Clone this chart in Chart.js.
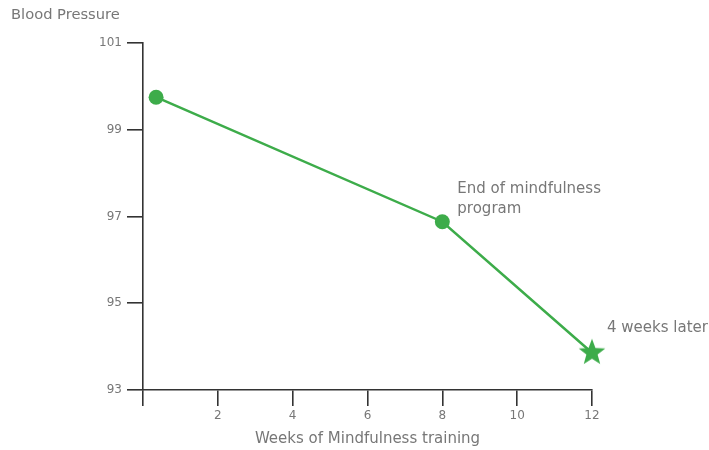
<!DOCTYPE html>
<html>
<head>
<meta charset="utf-8">
<script src="https://cdn.jsdelivr.net/npm/chart.js@4"></script>
<style>
  html, body { margin: 0; padding: 0; background: #fff; }
  #wrap { width: 709px; height: 450px; position: relative; }
</style>
</head>
<body>
<div id="wrap"><canvas id="c" width="709" height="450"></canvas></div>
<script>
// ---- data ----
const weeks = [0.35, 8, 12];
const bloodPressure = [99.75, 96.88, 93.86];
const pointLabels = ["", ["End of mindfulness", "program"], ["4 weeks later"]];
const xTicks = [2, 4, 6, 8, 10, 12];
const yTicks = [93, 95, 97, 99, 101];
const yAxisTitle = "Blood Pressure";
const xAxisTitle = "Weeks of Mindfulness training";

const GREEN = "#3dac4a";
const TEXT = "#777777";
const AXIS = "#333333";
const FONT = "'DejaVu Sans', sans-serif";

// filled star image for the last point
function makeStar(r) {
  const c = document.createElement("canvas");
  c.width = c.height = r * 2 + 2;
  const g = c.getContext("2d");
  g.fillStyle = GREEN;
  g.beginPath();
  const cx = r + 1, cy = r + 1, inner = r * 0.42;
  for (let i = 0; i < 10; i++) {
    const rad = i % 2 === 0 ? r : inner;
    const a = -Math.PI / 2 + i * Math.PI / 5;
    const px = cx + rad * Math.cos(a), py = cy + rad * Math.sin(a);
    if (i === 0) g.moveTo(px, py); else g.lineTo(px, py);
  }
  g.closePath();
  g.fill();
  return c;
}
const star = makeStar(14);

const labelPlugin = {
  id: "pointText",
  afterDatasetsDraw(chart) {
    const ctx = chart.ctx;
    const meta = chart.getDatasetMeta(0);
    ctx.save();
    ctx.fillStyle = TEXT;
    ctx.font = "15px " + FONT;
    ctx.textAlign = "left";
    ctx.textBaseline = "middle";
    meta.data.forEach((pt, i) => {
      const lines = pointLabels[i];
      if (!lines || !lines.length) return;
      const n = lines.length;
      lines.forEach((t, k) => {
        const dy = n === 2 ? (-33 + k * 20) : -25;
        ctx.fillText(t, pt.x + 15, pt.y + dy);
      });
    });
    // y axis title at top-left
    ctx.font = "14.7px " + FONT;
    ctx.fillText(yAxisTitle, 11, 15);
    ctx.restore();
  }
};

new Chart(document.getElementById("c"), {
  type: "line",
  data: {
    datasets: [{
      data: weeks.map((w, i) => ({ x: w, y: bloodPressure[i] })),
      borderColor: GREEN,
      backgroundColor: GREEN,
      borderWidth: 2.5,
      pointStyle: ["circle", "circle", star],
      pointRadius: [7.5, 7.5, 14],
      pointBackgroundColor: GREEN,
      pointBorderWidth: 0,
      tension: 0,
      fill: false,
      clip: false
    }]
  },
  options: {
    responsive: false,
    animation: false,
    events: [],
    layout: { padding: { top: 43, right: 117, left: 0, bottom: 0 } },
    plugins: { legend: { display: false }, tooltip: { enabled: false } },
    scales: {
      x: {
        type: "linear",
        min: 0, max: 12,
        afterBuildTicks(s) { s.ticks = [0].concat(xTicks).map(v => ({ value: v })); },
        afterFit(s) { s.height = 60; },
        ticks: {
          color: TEXT, font: { size: 12, family: FONT }, padding: 3,
          maxRotation: 0,
          callback: v => (v === 0 ? "" : String(v))
        },
        grid: { drawOnChartArea: false, drawTicks: true, tickLength: 16, color: AXIS, lineWidth: 1.6 },
        border: { display: true, color: AXIS, width: 1.6 },
        title: { display: true, text: xAxisTitle, color: TEXT, font: { size: 15, family: FONT }, padding: { top: 0, bottom: 2 } }
      },
      y: {
        type: "linear",
        min: 93, max: 101,
        afterBuildTicks(s) { s.ticks = yTicks.map(v => ({ value: v })); },
        afterFit(s) { s.width = 143; },
        ticks: { color: TEXT, font: { size: 12, family: FONT }, padding: 5 },
        grid: { drawOnChartArea: false, drawTicks: true, tickLength: 16, color: AXIS, lineWidth: 1.6 },
        border: { display: true, color: AXIS, width: 1.6 }
      }
    }
  },
  plugins: [labelPlugin]
});
</script>
</body>
</html>
